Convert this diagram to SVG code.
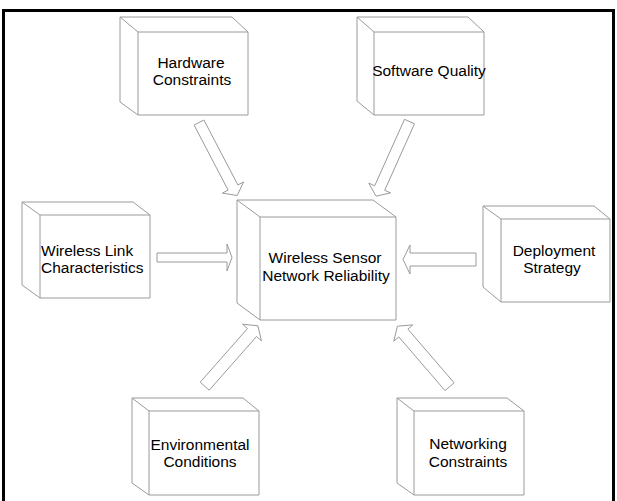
<svg xmlns="http://www.w3.org/2000/svg" width="617" height="501" viewBox="0 0 617 501">
<style>
.box{fill:#fff;stroke:#9a9a9a;stroke-width:1}
.edge{fill:none;stroke:#9a9a9a;stroke-width:1}
.arr{fill:#fff;stroke:#9a9a9a;stroke-width:1;stroke-linejoin:miter}
.t{font-family:"Liberation Sans",Arial,sans-serif;font-size:15.5px;fill:#000;text-anchor:middle}
.frame{fill:none;stroke:#000;stroke-width:3}
</style>
<rect width="617" height="501" fill="#fff"/>
<path class="frame" d="M3.5,520 V10.5 H613.5 V520"/>
<g id="connectors">
<polygon class="arr" points="157,253 227,253 227,244 232,257.5 227,271 227,262 157,262"/>
<polygon class="arr" points="476,253 410,253 410,245 403,259.5 410,274 410,266 476,266"/>
<polygon class="arr" points="194.1,125.1 228.1,190.1 222.4,193.1 237.2,195.5 243.6,181.9 237.9,185 203.9,120"/>
<polygon class="arr" points="404.5,119.3 374.7,185.8 368.8,183.1 376,196.2 390.6,192.9 384.7,190.3 414.5,123.8"/>
<polygon class="arr" points="200.2,382.2 247.5,328.5 242.6,324.2 257.9,325.8 261.4,340.8 256.5,336.5 209.2,390.2"/>
<polygon class="arr" points="445,390.6 398.8,336.9 393.8,341.2 397.4,326.2 412.8,324.9 407.9,329.1 454.1,382.8"/>
</g>
<g id="hardware">
<path class="box" d="M120,17 H232 L248,32 V115 H138 L120,102 Z"/>
<path class="edge" d="M120,17 L138,32 H248 M138,32 V115"/>
<text class="t" x="191" y="68">Hardware</text>
<text class="t" x="192" y="85">Constraints</text>
</g>
<g id="software">
<path class="box" d="M357,17 H468 L484,32 V115 H374 L357,101 Z"/>
<path class="edge" d="M357,17 L374,32 H484 M374,32 V115"/>
<text class="t" x="429" y="76">Software Quality</text>
</g>
<g id="center">
<path class="box" d="M237,200 H373 L396,217 V320 H260 L237,303 Z"/>
<path class="edge" d="M237,200 L260,217 H396 M260,217 V320"/>
<text class="t" x="325" y="263">Wireless Sensor</text>
<text class="t" x="326" y="281">Network Reliability</text>
</g>
<g id="wireless-link">
<path class="box" d="M22,202 H133 L150,215 V298 H40 L22,285 Z"/>
<path class="edge" d="M22,202 L40,215 H150 M40,215 V298"/>
<text class="t" x="41" y="256" style="text-anchor:start">Wireless Link</text>
<text class="t" x="41" y="273" style="text-anchor:start">Characteristics</text>
</g>
<g id="deployment">
<path class="box" d="M483,206 H594 L610,219 V302 H501 L483,287 Z"/>
<path class="edge" d="M483,206 L501,219 H610 M501,219 V302"/>
<text class="t" x="554" y="256">Deployment</text>
<text class="t" x="552" y="273">Strategy</text>
</g>
<g id="environmental">
<path class="box" d="M132,398 H243 L259,411 V495 H149 L132,483 Z"/>
<path class="edge" d="M132,398 L149,411 H259 M149,411 V495"/>
<text class="t" x="200" y="450">Environmental</text>
<text class="t" x="200" y="467">Conditions</text>
</g>
<g id="networking">
<path class="box" d="M397,398 H507 L524,411 V495 H414 L397,483 Z"/>
<path class="edge" d="M397,398 L414,411 H524 M414,411 V495"/>
<text class="t" x="468" y="449">Networking</text>
<text class="t" x="468" y="467">Constraints</text>
</g>
</svg>
